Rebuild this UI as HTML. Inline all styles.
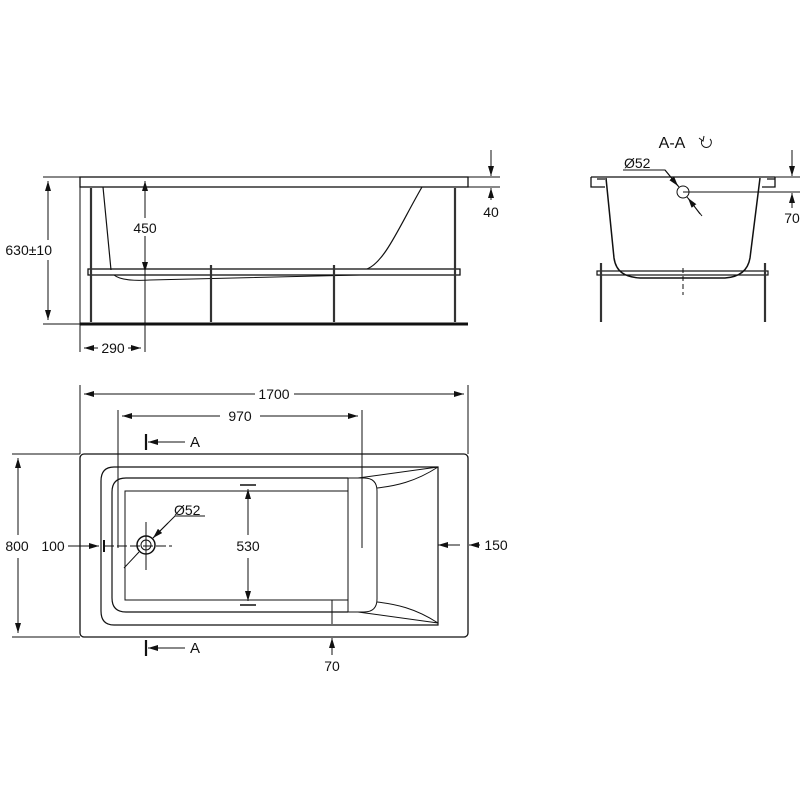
<!DOCTYPE html><html><head><style>body{margin:0;background:#fff}svg{display:block}text{font-family:"Liberation Sans",sans-serif;font-size:14px;fill:#111}</style></head><body>
<svg width="800" height="800" viewBox="0 0 800 800" xmlns="http://www.w3.org/2000/svg">
<defs><marker id="a" viewBox="0 0 10 6" refX="10" refY="3" markerWidth="10" markerHeight="6" orient="auto-start-reverse" markerUnits="userSpaceOnUse"><path d="M0,0L10,3L0,6z" fill="#111"/></marker></defs>
<g stroke="#111" fill="none" stroke-width="1">
<!-- side view -->
<rect x="80" y="177" width="388" height="10" stroke-width="1.3"/>
<path d="M103,187 L111,270 M422,187 C400,225 385,262 367,269" stroke-width="1.2"/>
<path d="M114,275 C120,280 135,281 150,280 L360,275"/>
<rect x="88" y="269" width="372" height="6" stroke-width="1.3"/>
<line x1="80" y1="324" x2="468" y2="324" stroke-width="3"/>
<g stroke-width="2.2" stroke="#333"><line x1="91" y1="188" x2="91" y2="322"/><line x1="455" y1="188" x2="455" y2="322"/><line x1="211" y1="265" x2="211" y2="322"/><line x1="334" y1="265" x2="334" y2="322"/></g>
<line x1="80" y1="177" x2="80" y2="352"/>
<line x1="43" y1="177" x2="80" y2="177"/><line x1="43" y1="324" x2="80" y2="324"/>
<line x1="48" y1="181" x2="48" y2="240" marker-start="url(#a)"/><line x1="48" y1="260" x2="48" y2="320" marker-end="url(#a)"/>
<line x1="145" y1="181" x2="145" y2="218" marker-start="url(#a)"/><line x1="145" y1="236" x2="145" y2="272" marker-end="url(#a)"/><line x1="145" y1="272" x2="145" y2="352"/>
<line x1="84" y1="348" x2="98" y2="348" marker-start="url(#a)"/><line x1="128" y1="348" x2="141" y2="348" marker-end="url(#a)"/>
<line x1="468" y1="177" x2="500" y2="177"/><line x1="468" y1="187" x2="500" y2="187"/>
<line x1="491" y1="150" x2="491" y2="176" marker-end="url(#a)"/><line x1="491" y1="200" x2="491" y2="188" marker-end="url(#a)"/>
<!-- section -->
<path d="M591,177 H775 M591,177 V187 H605 M775,177 V187 H762 M597,179 H605 M767,179 H775" stroke-width="1.3"/>
<path d="M606,178 L614,258 C616,272 625,277 640,278 L725,278 C740,277 748,270 750,258 L760,178" stroke-width="1.5"/>
<rect x="597" y="271" width="171" height="4" stroke-width="1.2"/>
<g stroke-width="2.2" stroke="#333"><line x1="601" y1="263" x2="601" y2="322"/><line x1="765" y1="263" x2="765" y2="322"/></g>
<line x1="683" y1="268" x2="683" y2="295" stroke-dasharray="5,3"/>
<circle cx="683" cy="192" r="6"/>
<line x1="683" y1="192" x2="800" y2="192"/>
<line x1="775" y1="177" x2="800" y2="177"/>
<line x1="792" y1="150" x2="792" y2="176" marker-end="url(#a)"/><line x1="792" y1="208" x2="792" y2="193" marker-end="url(#a)"/>
<path d="M623,170 H665 L679,187 M687,197 L702,216" />
<line x1="665" y1="170" x2="678" y2="186" marker-end="url(#a)"/><line x1="700" y1="214" x2="688" y2="198" marker-end="url(#a)"/>
<path d="M710,139 A5,5 0 1 1 702,140" />
<path d="M699,138 L703,141 L704,136" />
<!-- plan -->
<rect x="80" y="454" width="388" height="183" rx="4" stroke-width="1.3"/>
<path d="M438,467 H114 Q101,467 101,481 V611 Q101,625 114,625 H438 Z" stroke-width="1.2"/>
<path d="M348,478 H126 Q112,478 112,492 V598 Q112,612 126,612 H348" stroke-width="1.2"/>
<path d="M348,478 H364 Q377,478 377,491 V599 Q377,612 364,612 H348" />
<rect x="125" y="491" width="223" height="109"/>
<line x1="348" y1="478" x2="348" y2="612"/>
<path d="M358,478 L438,467 M377,488 C395,486 415,482 438,467 M377,602 C395,604 415,608 438,623 M358,612 L438,623"/>
<line x1="80" y1="385" x2="80" y2="454"/><line x1="468" y1="385" x2="468" y2="454"/>
<line x1="84" y1="394" x2="255" y2="394" marker-start="url(#a)"/><line x1="294" y1="394" x2="464" y2="394" marker-end="url(#a)"/>
<line x1="118" y1="410" x2="118" y2="548"/><line x1="362" y1="410" x2="362" y2="548"/>
<line x1="122" y1="416" x2="220" y2="416" marker-start="url(#a)"/><line x1="260" y1="416" x2="358" y2="416" marker-end="url(#a)"/>
<line x1="12" y1="454" x2="80" y2="454"/><line x1="12" y1="637" x2="80" y2="637"/>
<line x1="18" y1="458" x2="18" y2="535" marker-start="url(#a)"/><line x1="18" y1="558" x2="18" y2="633" marker-end="url(#a)"/>
<line x1="68" y1="546" x2="99" y2="546" marker-end="url(#a)"/><line x1="104" y1="540" x2="104" y2="552" stroke-width="2"/>
<line x1="104" y1="546" x2="172" y2="546" stroke-dasharray="10,3"/>
<line x1="146" y1="522" x2="146" y2="570"/>
<circle cx="146" cy="545" r="9" stroke-width="1.5"/><circle cx="146" cy="545" r="5"/>
<path d="M124,568 L139,552 M153,538 L175,516 H205"/>
<line x1="168" y1="523" x2="153" y2="538" marker-end="url(#a)"/>
<line x1="240" y1="485" x2="256" y2="485" stroke-width="1.5"/><line x1="240" y1="605" x2="256" y2="605" stroke-width="1.5"/>
<line x1="248" y1="489" x2="248" y2="535" marker-start="url(#a)"/><line x1="248" y1="558" x2="248" y2="601" marker-end="url(#a)"/>
<line x1="480" y1="545" x2="469" y2="545" marker-end="url(#a)"/><line x1="438" y1="545" x2="460" y2="545" marker-start="url(#a)"/>
<line x1="332" y1="600" x2="332" y2="624"/><line x1="332" y1="655" x2="332" y2="638" marker-end="url(#a)"/>
<g stroke-width="2.2"><line x1="146" y1="434" x2="146" y2="450"/><line x1="146" y1="640" x2="146" y2="656"/></g>
<line x1="185" y1="442" x2="148" y2="442" marker-end="url(#a)"/><line x1="185" y1="648" x2="148" y2="648" marker-end="url(#a)"/>
</g>
<text x="52" y="255" text-anchor="end">630±10</text>
<text x="145" y="233" text-anchor="middle">450</text>
<text x="113" y="353" text-anchor="middle">290</text>
<text x="491" y="217" text-anchor="middle">40</text>
<text x="672" y="148" text-anchor="middle" style="font-size:16px">A-A</text>
<text x="624" y="168">Ø52</text>
<text x="792" y="223" text-anchor="middle">70</text>
<text x="274" y="399" text-anchor="middle">1700</text>
<text x="240" y="421" text-anchor="middle">970</text>
<text x="190" y="447" style="font-size:15px">A</text>
<text x="190" y="653" style="font-size:15px">A</text>
<text x="17" y="551" text-anchor="middle">800</text>
<text x="53" y="551" text-anchor="middle">100</text>
<text x="248" y="551" text-anchor="middle">530</text>
<text x="496" y="550" text-anchor="middle">150</text>
<text x="332" y="671" text-anchor="middle">70</text>
<text x="174" y="515">Ø52</text>
</svg></body></html>
